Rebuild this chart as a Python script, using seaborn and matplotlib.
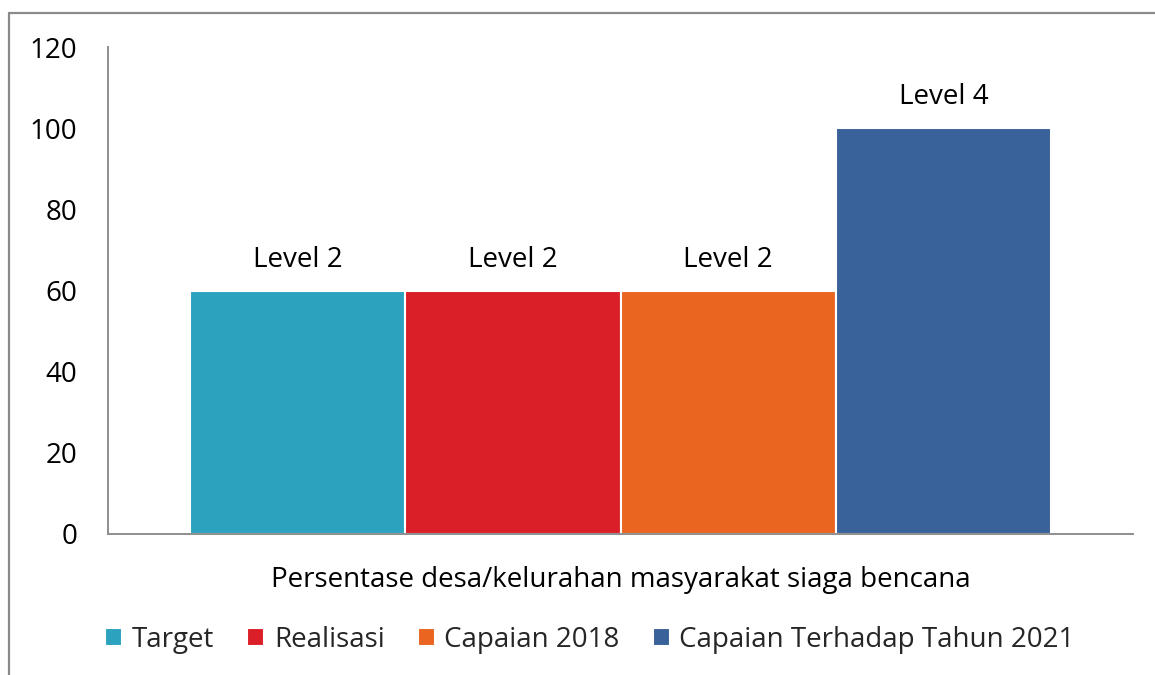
import pandas as pd
import matplotlib.pyplot as plt
import seaborn as sns
from matplotlib.lines import Line2D

# Data
category = ['Persentase desa/kelurahan masyarakat siaga bencana']
series = ['Target', 'Realisasi', 'Capaian 2018', 'Capaian Terhadap Tahun 2021']
values = [60, 60, 60, 100]
levels = ['Level 2', 'Level 2', 'Level 2', 'Level 4']
colors = ['#2CA2BF', '#DA1F28', '#E96520', '#386299']

df = pd.DataFrame({
    'kategori': category * len(series),
    'seri': series,
    'nilai': values,
})

sns.set_style('white')
plt.rcParams['font.family'] = ['Open Sans', 'DejaVu Sans']
plt.rcParams['font.size'] = 20

fig = plt.figure(figsize=(11.55, 6.75), dpi=100)
ax = fig.add_axes([108 / 1155, 1 - 534 / 675, 1025 / 1155, 487 / 675])

sns.barplot(data=df, x='kategori', y='nilai', hue='seri', palette=colors,
            width=0.84, edgecolor='white', linewidth=1.5, saturation=1, ax=ax)

# labels above bars
for cont, lab in zip(ax.containers, levels):
    ax.bar_label(cont, labels=[lab], padding=12, fontsize=20, color='black')

ax.set_ylim(0, 120)
ax.set_xlim(-0.5, 0.5)
ax.set_yticks(range(0, 121, 20))
ax.set_xlabel('')
ax.set_ylabel('')
ax.tick_params(axis='y', length=0, pad=22, labelsize=20, labelcolor='black')
ax.tick_params(axis='x', length=0, pad=23, labelsize=20, labelcolor='black')

for s in ['top', 'right']:
    ax.spines[s].set_visible(False)
for s in ['left', 'bottom']:
    ax.spines[s].set_color('#8e8e8e')
    ax.spines[s].set_linewidth(1.4)

# legend at the bottom
handles, labs = ax.get_legend_handles_labels()
ax.get_legend().remove()
fig.legend(handles, labs, loc='center', bbox_to_anchor=(590 / 1155, 1 - 640 / 675),
           ncol=4, frameon=False, fontsize=20, handlelength=0.6, handleheight=0.6,
           handletextpad=0.35, columnspacing=1.2)

# outer frame (only top and left edges visible in the crop)
fx = 9 / 1155
fy = 1 - 13 / 675
fig.add_artist(Line2D([fx, fx], [0, fy], color='#8a8a8a', linewidth=1.6, transform=fig.transFigure))
fig.add_artist(Line2D([fx, 1], [fy, fy], color='#8a8a8a', linewidth=1.6, transform=fig.transFigure))

plt.savefig('out.png', dpi=100)
